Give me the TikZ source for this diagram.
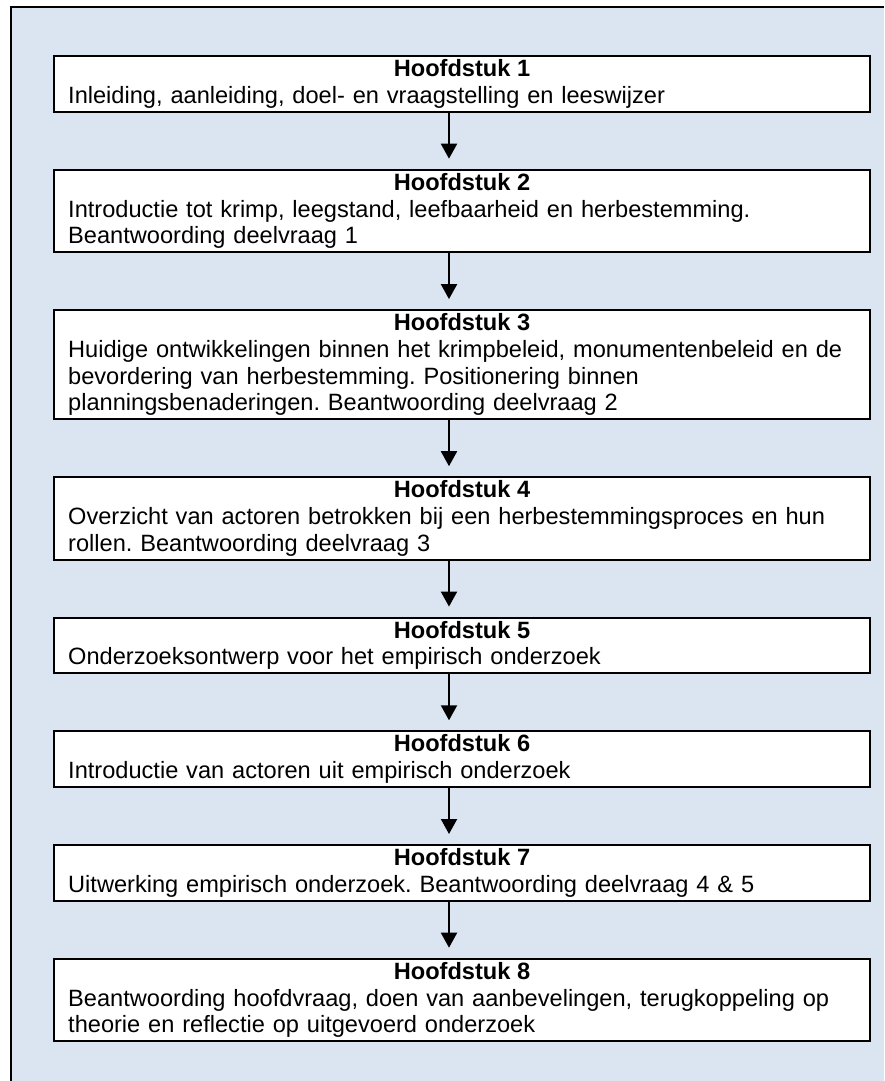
\documentclass[tikz,border=0pt]{standalone}
\usepackage{fontspec}
\setmainfont{Liberation Sans}
\usetikzlibrary{arrows.meta}
\definecolor{framebg}{HTML}{DBE5F1}
\frenchspacing
\tikzset{
  chapbox/.style={draw=black, line width=2pt, fill=white, rectangle, inner sep=0pt,
    minimum width=816pt, anchor=north},
  hdr/.style={font=\fontsize{23.6}{26.7}\selectfont\bfseries, inner sep=0pt, anchor=base},
  body/.style={font=\fontsize{23.6}{26.7}\selectfont, inner sep=0pt, align=left,
    text width=830pt, anchor=north west},
  arr/.style={line width=2pt, -{Triangle[length=15pt,width=16pt]}}
}
\begin{document}
\begin{tikzpicture}[x=1pt,y=-1pt]
\useasboundingbox (0,0) rectangle (884,1081);
\fill[framebg] (11,7) rectangle (884,1081);
\draw[line width=2pt] (11,1081) -- (11,7) -- (884,7);
\coordinate (ax) at (449,0);

% boxes
\node[chapbox, minimum height=55.7pt] (b1) at (462,55) {};
\node[chapbox, minimum height=82.4pt] (b2) at (462,168.7) {};
\node[chapbox, minimum height=109.1pt] (b3) at (462,309.1) {};
\node[chapbox, minimum height=82.4pt] (b4) at (462,476.2) {};
\node[chapbox, minimum height=55.7pt] (b5) at (462,616.6) {};
\node[chapbox, minimum height=55.7pt] (b6) at (462,730.3) {};
\node[chapbox, minimum height=55.7pt] (b7) at (462,844) {};
\node[chapbox, minimum height=82.4pt] (b8) at (462,957.7) {};

% headers
\node[hdr] (h1) at (462,76.5) {Hoofdstuk 1};
\node[hdr] (h2) at (462,190.2) {Hoofdstuk 2};
\node[hdr] (h3) at (462,330.6) {Hoofdstuk 3};
\node[hdr] (h4) at (462,497.7) {Hoofdstuk 4};
\node[hdr] (h5) at (462,638.1) {Hoofdstuk 5};
\node[hdr] (h6) at (462,751.8) {Hoofdstuk 6};
\node[hdr] (h7) at (462,865.5) {Hoofdstuk 7};
\node[hdr] (h8) at (462,979.2) {Hoofdstuk 8};

% bodies
\node[body] (t1) at (68,84.5) {\strut Inleiding, aanleiding, doel- en vraagstelling en leeswijzer};
\node[body] (t2) at (68,198.2) {\strut Introductie tot krimp, leegstand, leefbaarheid en herbestemming.\\Beantwoording deelvraag 1};
\node[body] (t3) at (68,338.6) {\strut Huidige ontwikkelingen binnen het krimpbeleid, monumentenbeleid en de\\bevordering van herbestemming. Positionering binnen\\planningsbenaderingen. Beantwoording deelvraag 2};
\node[body] (t4) at (68,505.7) {\strut Overzicht van actoren betrokken bij een herbestemmingsproces en hun\\rollen. Beantwoording deelvraag 3};
\node[body] (t5) at (68,646.1) {\strut Onderzoeksontwerp voor het empirisch onderzoek};
\node[body] (t6) at (68,759.8) {\strut Introductie van actoren uit empirisch onderzoek};
\node[body] (t7) at (68,873.5) {\strut Uitwerking empirisch onderzoek. Beantwoording deelvraag 4 \& 5};
\node[body] (t8) at (68,987.2) {\strut Beantwoording hoofdvraag, doen van aanbevelingen, terugkoppeling op\\theorie en reflectie op uitgevoerd onderzoek};

% arrows
\foreach \a/\b in {b1/b2,b2/b3,b3/b4,b4/b5,b5/b6,b6/b7,b7/b8}
  \draw[arr] (\a.south -| ax) -- ([yshift=10pt]\b.north -| ax);
\end{tikzpicture}
\end{document}
